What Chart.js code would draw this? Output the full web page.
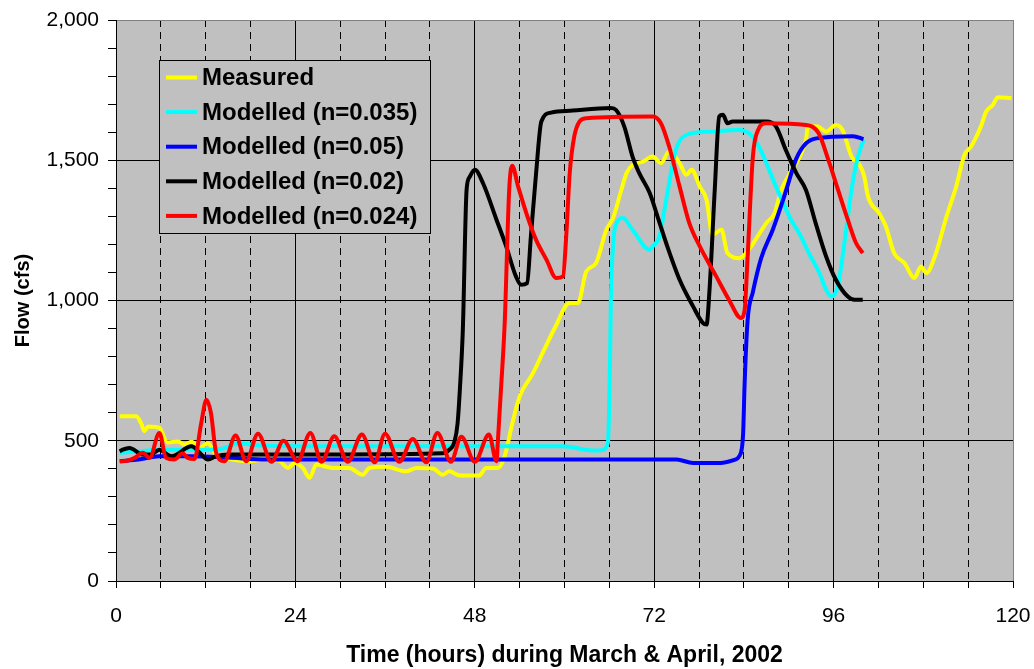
<!DOCTYPE html>
<html>
<head>
<meta charset="utf-8">
<script src="https://cdn.jsdelivr.net/npm/chart.js@4.4.1/dist/chart.umd.min.js"></script>
<style>
  body { margin: 0; background: #fff; }
  #wrap { width: 1034px; height: 669px; position: relative; }
</style>
</head>
<body>
<div id="wrap"><canvas id="myChart"></canvas></div>
<script>
// Datos (horas, caudal cfs)
const measuredT = [0.5, 2.7, 3.4, 3.8, 4.3, 5.8, 6.9, 8.3, 9.2, 10.1, 11.2, 12.3, 13.2, 15.6, 17.9, 20.1, 21.9, 23.0, 23.9, 25.0, 25.9, 26.8, 29.0, 31.2, 33.0, 33.9, 36.1, 38.8, 40.2, 42.4, 43.7, 44.6, 46.0, 48.6, 49.5, 51.1, 52.0, 53.0, 54.0, 55.8, 57.2, 58.7, 60.7, 61.8, 62.9, 64.2, 65.6, 66.5, 67.6, 68.3, 69.1, 70.5, 71.8, 72.9, 74.0, 75.4, 76.3, 77.0, 78.1, 79.0, 79.8, 81.0, 81.8, 83.4, 84.3, 87.0, 88.1, 89.0, 90.3, 92.3, 92.6, 93.9, 95.0, 96.3, 97.2, 98.4, 99.5, 100.1, 100.6, 102.1, 103.0, 104.1, 105.5, 106.8, 107.7, 108.4, 109.7, 111.1, 112.4, 113.5, 114.4, 115.7, 116.4, 117.3, 118.0, 119.8];
const measuredQ = [587, 587, 560, 534, 551, 546, 494, 497, 486, 496, 474, 492, 457, 433, 427, 433, 427, 403, 421, 403, 368, 415, 403, 403, 379, 403, 407, 391, 403, 401, 379, 391, 376, 376, 403, 403, 445, 560, 658, 742, 820, 902, 991, 991, 1103, 1133, 1252, 1294, 1394, 1454, 1483, 1495, 1513, 1490, 1531, 1490, 1448, 1466, 1406, 1359, 1234, 1252, 1169, 1151, 1169, 1276, 1311, 1394, 1460, 1573, 1622, 1620, 1602, 1626, 1608, 1513, 1483, 1442, 1371, 1311, 1264, 1169, 1133, 1080, 1121, 1098, 1169, 1299, 1406, 1519, 1549, 1620, 1673, 1697, 1725, 1721];

const n035T = [0.5, 3.0, 6.0, 10.0, 13.8, 16.5, 20, 30, 40, 50, 59.8, 64.0, 64.9, 65.8, 66.1, 66.2, 66.4, 66.7, 67.8, 69.1, 71.4, 71.8, 72.7, 73.6, 74.9, 76.3, 79.4, 83.4, 84.7, 86.0, 88.3, 90.3, 91.4, 92.8, 94.1, 95.0, 95.7, 96.6, 97.5, 98.4, 99.2, 100.0];
const n035Q = [457, 462, 468, 468, 470, 490, 482, 480, 480, 480, 480, 465, 466, 492, 800, 1003, 1150, 1252, 1294, 1252, 1181, 1193, 1228, 1359, 1537, 1590, 1602, 1608, 1596, 1549, 1406, 1288, 1240, 1163, 1098, 1038, 1014, 1056, 1216, 1394, 1507, 1573];

const n05T = [0.5, 3, 5.8, 10, 15, 20, 50, 75.0, 77.2, 80.9, 82.5, 83.6, 83.9, 84.1, 84.5, 85.2, 86.3, 87.9, 89.5, 91.0, 92.3, 93.7, 98.6, 100.0];
const n05Q = [427, 433, 445, 445, 440, 433, 433, 433, 421, 421, 430, 457, 528, 706, 930, 1030, 1150, 1255, 1380, 1505, 1560, 1578, 1586, 1575];

const n02T = [0.5, 0.9, 1.8, 3.6, 4.7, 5.8, 7.4, 10.1, 11.2, 12.3, 13.4, 15, 30, 43.7, 44.6, 45.3, 45.7, 46.0, 46.4, 46.9, 47.3, 48.0, 49.1, 50.9, 52.2, 53.5, 54.2, 55.0, 55.5, 56.2, 56.9, 58.2, 61.1, 66.2, 66.9, 68.0, 69.1, 70.0, 71.4, 72.5, 73.6, 75.4, 77.2, 78.5, 79.0, 79.4, 80.1, 80.7, 81.2, 81.8, 82.5, 87.0, 88.3, 89.6, 91.0, 92.3, 93.6, 95.0, 96.3, 97.9, 98.8, 99.9];
const n02Q = [462, 468, 474, 451, 451, 468, 445, 480, 457, 433, 445, 451, 451, 455, 468, 498, 563, 682, 896, 1394, 1440, 1466, 1418, 1288, 1193, 1086, 1056, 1062, 1228, 1454, 1638, 1670, 1677, 1686, 1679, 1620, 1513, 1454, 1383, 1295, 1205, 1074, 979, 920, 914, 1038, 1394, 1656, 1662, 1632, 1638, 1638, 1620, 1537, 1455, 1394, 1276, 1157, 1074, 1014, 1003, 1003];

const n024T = [0.5, 0.9, 2.5, 3.6, 4.5, 5.8, 6.7, 7.8, 8.9, 9.6, 10.5, 11.4, 12.1, 12.7, 13.4, 14.5, 16.0, 17.4, 19.0, 20.8, 22.4, 24.3, 26.0, 27.5, 29.2, 31.0, 32.9, 34.6, 36.0, 37.9, 39.7, 41.5, 43.0, 44.8, 46.2, 48.0, 49.9, 50.9, 51.1, 51.5, 52.0, 52.6, 53.0, 53.8, 54.9, 56.2, 57.6, 58.9, 59.8, 60.2, 60.7, 61.3, 62.0, 62.9, 71.8, 72.9, 74.0, 75.4, 76.7, 78.1, 80.3, 82.0, 83.6, 84.1, 84.5, 85.2, 85.9, 87.0, 92.3, 94.0, 95.3, 96.6, 97.9, 99.0, 99.9];
const n024Q = [427, 427, 439, 457, 439, 528, 439, 433, 455, 439, 435, 563, 646, 599, 457, 427, 519, 427, 525, 425, 500, 427, 528, 425, 516, 425, 522, 423, 525, 425, 506, 423, 528, 425, 514, 425, 522, 427, 504, 682, 920, 1394, 1480, 1406, 1311, 1216, 1145, 1080, 1086, 1216, 1454, 1584, 1638, 1650, 1656, 1632, 1549, 1406, 1276, 1193, 1086, 1003, 938, 967, 1157, 1513, 1608, 1632, 1626, 1596, 1501, 1394, 1288, 1205, 1169];

const seriesNames = ["Measured", "Modelled (n=0.035)", "Modelled (n=0.05)", "Modelled (n=0.02)", "Modelled (n=0.024)"];
const seriesColors = ["#FFFF00", "#00FFFF", "#0000FF", "#000000", "#FF0000"];
const xTicks = [0, 24, 48, 72, 96, 120];
const yTicks = [0, 500, 1000, 1500, 2000];

const FONT = "'Liberation Sans', Arial, sans-serif";

function puntos(t, q) {
  return t.map((h, i) => ({ x: h, y: q[i] }));
}

const allT = [measuredT, n035T, n05T, n02T, n024T];
const allQ = [measuredQ, n035Q, n05Q, n02Q, n024Q];

const datasets = seriesNames.map((name, i) => ({
  label: name,
  data: puntos(allT[i], allQ[i]),
  borderColor: seriesColors[i],
  backgroundColor: seriesColors[i],
  borderWidth: 4,
  pointRadius: 0,
  cubicInterpolationMode: "monotone",
  order: 5 - i
}));

// Fondo gris del area de trazado
const fondoPlugin = {
  id: "fondo",
  beforeDraw(chart) {
    const { ctx, chartArea: a } = chart;
    ctx.save();
    ctx.fillStyle = "#C0C0C0";
    ctx.fillRect(a.left, a.top, a.right - a.left, a.bottom - a.top);
    ctx.restore();
  }
};

// Leyenda dentro del area de trazado
const leyendaPlugin = {
  id: "leyenda",
  afterDatasetsDraw(chart) {
    const ctx = chart.ctx;
    const bx = 159.5, by = 60.5, bw = 271, bh = 173;
    ctx.save();
    ctx.fillStyle = "#C0C0C0";
    ctx.fillRect(bx, by, bw, bh);
    ctx.strokeStyle = "#000";
    ctx.lineWidth = 1;
    ctx.strokeRect(bx, by, bw, bh);
    ctx.font = "bold 24px " + FONT;
    ctx.textBaseline = "middle";
    ctx.fillStyle = "#000";
    seriesNames.forEach((name, i) => {
      const y = 77.5 + i * 34.6;
      ctx.strokeStyle = seriesColors[i];
      ctx.lineWidth = 4;
      ctx.beginPath();
      ctx.moveTo(166, y);
      ctx.lineTo(197, y);
      ctx.stroke();
      ctx.fillText(name, 202, y + 1);
    });
    ctx.restore();
  }
};

const config = {
  type: "line",
  data: { datasets },
  options: {
    responsive: true,
    maintainAspectRatio: false,
    animation: false,
    layout: { padding: { left: 0, top: 20, right: 21, bottom: 0 } },
    plugins: { legend: { display: false }, tooltip: { enabled: false } },
    scales: {
      x: {
        type: "linear",
        position: "bottom",
        min: 0,
        max: 120,
        afterFit: (s) => { s.height = 88; s.paddingLeft = 0; s.paddingRight = 0; },
        afterBuildTicks: (s) => {
          const t = [];
          for (let v = 0; v <= 120; v += 6) t.push({ value: v });
          s.ticks = t;
        },
        ticks: {
          autoSkip: false,
          maxRotation: 0,
          padding: 16,
          color: "#000",
          font: { family: FONT, size: 21 },
          callback: (v) => xTicks.includes(v) ? String(v) : ""
        },
        grid: {
          color: (c) => c.tick && c.tick.value === 120 ? "#808080" : (c.tick && c.tick.value % 24 === 0 ? "#000" : "rgba(0,0,0,0)"),
          tickColor: "#000",
          tickLength: 7,
          lineWidth: 1
        },
        border: { color: "#000", width: 1 },
        title: {
          display: true,
          text: "Time (hours) during March & April, 2002",
          color: "#000",
          font: { family: FONT, size: 23, weight: "bold" },
          padding: { top: 0, bottom: 0 }
        }
      },
      x2: {
        type: "linear",
        position: "bottom",
        min: 0,
        max: 120,
        afterFit: (s) => { s.height = 0; s.paddingLeft = 0; s.paddingRight = 0; },
        afterBuildTicks: (s) => {
          const t = [];
          for (let v = 0; v <= 120; v += 6) t.push({ value: v });
          s.ticks = t;
        },
        ticks: { display: false },
        grid: {
          drawTicks: false,
          color: (c) => c.tick && c.tick.value % 24 !== 0 ? "#000" : "rgba(0,0,0,0)",
          lineWidth: 1
        },
        border: { display: false, dash: [7, 5] }
      },
      y: {
        type: "linear",
        min: 0,
        max: 2000,
        afterFit: (s) => { s.width = 116; s.paddingTop = 0; s.paddingBottom = 0; },
        afterBuildTicks: (s) => {
          const t = [];
          for (let v = 0; v <= 2000; v += 100) t.push({ value: v });
          s.ticks = t;
        },
        ticks: {
          autoSkip: false,
          padding: 9,
          color: "#000",
          font: { family: FONT, size: 21 },
          callback: (v) => yTicks.includes(v) ? v.toLocaleString("en-US") : ""
        },
        grid: {
          color: (c) => c.tick && c.tick.value === 2000 ? "#808080" : (c.tick && c.tick.value % 500 === 0 ? "#000" : "rgba(0,0,0,0)"),
          tickColor: "#000",
          tickLength: 8,
          lineWidth: 1
        },
        border: { color: "#000", width: 1 },
        title: {
          display: true,
          text: "Flow (cfs)",
          color: "#000",
          font: { family: FONT, size: 20, weight: "bold" },
          padding: { top: 11, bottom: 0 }
        }
      }
    }
  },
  plugins: [fondoPlugin, leyendaPlugin]
};

const myChart = document.getElementById("myChart");
new Chart(myChart, config);
</script>
</body>
</html>
